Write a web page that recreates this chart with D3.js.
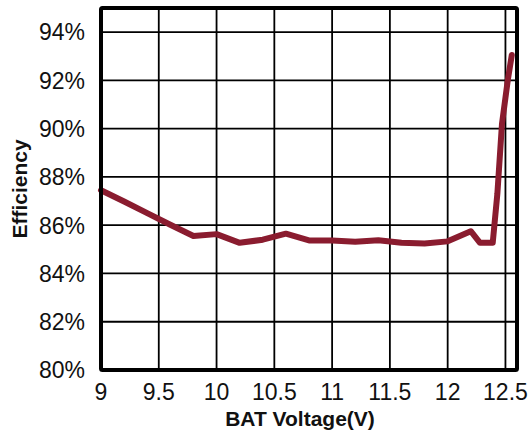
<!DOCTYPE html>
<html>
<head>
<meta charset="utf-8">
<script src="https://cdn.jsdelivr.net/npm/d3@7"></script>
<style>
  html, body { margin: 0; padding: 0; background: #fff; }
  svg { display: block; }
  text { font-family: "Liberation Sans", Arial, sans-serif; fill: #111; }
</style>
</head>
<body>
<svg id="chart" width="531" height="437"></svg>
<script>
// Data
const voltage = [9.0, 9.2, 9.4, 9.6, 9.8, 10.0, 10.2, 10.4, 10.6, 10.8, 11.0, 11.2, 11.4, 11.6, 11.8, 12.0, 12.2, 12.28, 12.39, 12.43, 12.47, 12.52, 12.555];
const efficiency = [87.45, 86.98, 86.5, 86.02, 85.55, 85.63, 85.27, 85.40, 85.65, 85.37, 85.37, 85.31, 85.38, 85.27, 85.24, 85.33, 85.75, 85.27, 85.27, 87.3, 90.2, 92.0, 93.05];
const xTicks = [9, 9.5, 10, 10.5, 11, 11.5, 12, 12.5];
const xTickLabels = ["9", "9.5", "10", "10.5", "11", "11.5", "12", "12.5"];
const yTicks = [80, 82, 84, 86, 88, 90, 92, 94];
const yTickLabels = ["80%", "82%", "84%", "86%", "88%", "90%", "92%", "94%"];
const xTitle = "BAT Voltage(V)";
const yTitle = "Efficiency";

(function () {
const svg = d3.select("#chart");
const pLeft = 101, pRight = 517, pTop = 8, pBottom = 370;

const x = d3.scaleLinear().domain([9, 12.6]).range([pLeft, pRight]);
const y = d3.scaleLinear().domain([80, 95]).range([pBottom, pTop]);

// Grid lines
const grid = svg.append("g");
grid.selectAll("line.v").data(xTicks.filter(d => d > 9)).enter().append("line")
  .attr("class", "v")
  .attr("x1", d => x(d)).attr("x2", d => x(d))
  .attr("y1", pTop).attr("y2", pBottom)
  .attr("stroke", "#000").attr("stroke-width", 1.8);
grid.selectAll("line.h").data(yTicks.filter(d => d > 80)).enter().append("line")
  .attr("class", "h")
  .attr("y1", d => y(d)).attr("y2", d => y(d))
  .attr("x1", pLeft).attr("x2", pRight)
  .attr("stroke", "#000").attr("stroke-width", 1.8);

// Data line
const pts = voltage.map((v, i) => [v, efficiency[i]]);
svg.append("path")
  .datum(pts)
  .attr("d", d3.line().x(d => x(d[0])).y(d => y(d[1])))
  .attr("fill", "none")
  .attr("stroke", "#8a1c2f")
  .attr("stroke-width", 6)
  .attr("stroke-linejoin", "round")
  .attr("stroke-linecap", "round");

// Frame
svg.append("rect")
  .attr("x", pLeft).attr("y", pTop)
  .attr("width", pRight - pLeft).attr("height", pBottom - pTop)
  .attr("fill", "none").attr("stroke", "#000").attr("stroke-width", 4)
  .attr("rx", 1.5);

// X tick labels
svg.append("g").selectAll("text").data(xTicks).enter().append("text")
  .attr("x", d => x(d)).attr("y", 400)
  .attr("text-anchor", "middle")
  .attr("font-size", 23)
  .text((d, i) => xTickLabels[i]);

// Y tick labels
svg.append("g").selectAll("text").data(yTicks).enter().append("text")
  .attr("x", 85).attr("y", d => y(d) + 8.3)
  .attr("text-anchor", "end")
  .attr("font-size", 23)
  .text((d, i) => yTickLabels[i]);

// Axis titles
svg.append("text")
  .attr("x", 300).attr("y", 425.5)
  .attr("text-anchor", "middle")
  .attr("font-size", 21).attr("font-weight", "bold")
  .text(xTitle);

svg.append("text")
  .attr("transform", "translate(27,189) rotate(-90)")
  .attr("text-anchor", "middle")
  .attr("font-size", 21).attr("font-weight", "bold")
  .text(yTitle);
})();
</script>
</body>
</html>
